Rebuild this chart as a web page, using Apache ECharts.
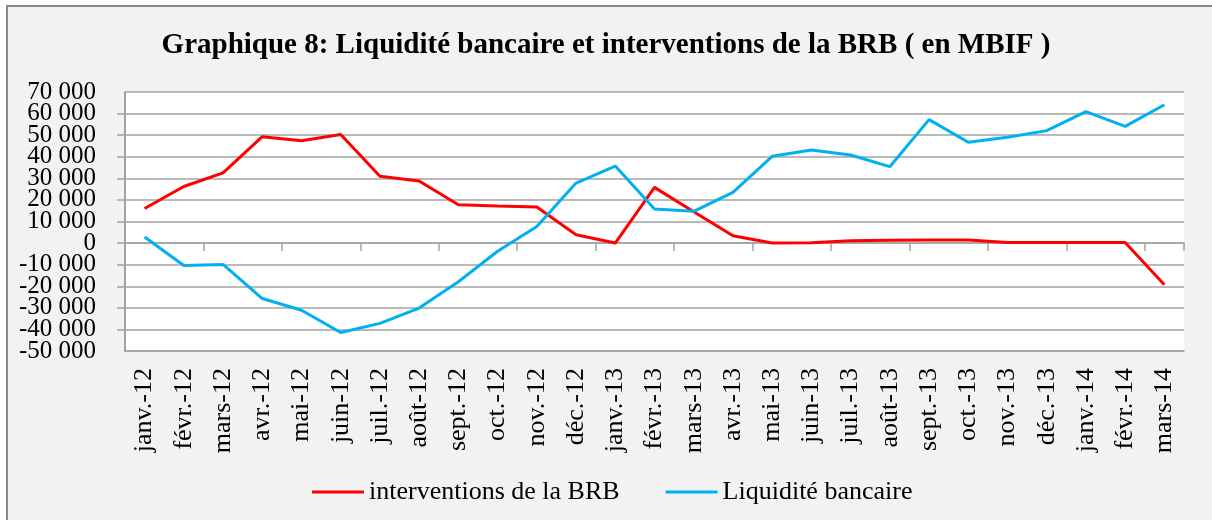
<!DOCTYPE html>
<html>
<head>
<meta charset="utf-8">
<script src="https://cdn.jsdelivr.net/npm/echarts@6/dist/echarts.min.js"></script>
<style>
  html, body { margin: 0; padding: 0; background: #fff; }
  #chart { width: 1212px; height: 520px; }
</style>
</head>
<body>
<div id="chart"></div>
<script>
// mois (axe des catégories)
const months = ['janv.-12', 'févr.-12', 'mars-12', 'avr.-12', 'mai-12', 'juin-12', 'juil.-12', 'août-12', 'sept.-12',
  'oct.-12', 'nov.-12', 'déc.-12', 'janv.-13', 'févr.-13', 'mars-13', 'avr.-13', 'mai-13', 'juin-13', 'juil.-13',
  'août-13', 'sept.-13', 'oct.-13', 'nov.-13', 'déc.-13', 'janv.-14', 'févr.-14', 'mars-14'];

// valeurs en MBIF
const interventions = [16000, 26200, 32500, 49300, 47400, 50300, 31000, 28800, 17800, 17200, 16700, 3900, 0,
  25800, 14500, 3400, 0, 100, 1100, 1300, 1400, 1400, 300, 300, 300, 300, -19300];
const liquidite = [2800, -10400, -9900, -25700, -31100, -41400, -37200, -30100, -17900, -3800, 7700, 27800, 35700,
  15800, 14700, 23500, 40200, 43100, 40800, 35400, 57200, 46700, 49000, 52100, 60900, 54100, 64100];

const yMin = -50000, yMax = 70000, yStep = 10000;

const serif = 'Liberation Serif';
const gris = '#a3a3a3';

function fmt(v) {
  let s = Math.abs(v).toString().replace(/\B(?=(\d{3})+(?!\d))/g, ' ');
  return v < 0 ? '-' + s : s;
}

const yLabel = {
  margin: 29,
  fontFamily: serif,
  fontSize: 25,
  color: '#000'
};

let chart = echarts.init(document.getElementById('chart'));
let option = {
  animation: false,
  backgroundColor: '#fff',
  graphic: [{
    type: 'rect',
    z: -10,
    shape: { x: 7, y: 6, width: 1230, height: 540 },
    style: { fill: '#f2f2f2', stroke: '#898989', lineWidth: 2 }
  }],
  title: {
    text: 'Graphique 8: Liquidité bancaire et interventions de la BRB ( en MBIF )',
    left: 'center',
    top: 26,
    textStyle: { fontFamily: serif, fontWeight: 'bold', fontSize: 29, color: '#000' }
  },
  legend: {
    left: 307,
    top: 474,
    itemWidth: 52,
    itemHeight: 3,
    itemGap: 46,
    icon: 'rect',
    textStyle: { fontFamily: serif, fontSize: 26, color: '#000' },
    data: ['interventions de la BRB', 'Liquidité bancaire']
  },
  grid: {
    left: 125,
    right: 28,
    top: 92,
    bottom: 169,
    show: true,
    backgroundColor: '#fff',
    borderWidth: 0
  },
  xAxis: [
    {
      // axe au niveau zéro : ligne et graduations seulement
      type: 'category',
      data: months,
      boundaryGap: true,
      axisLine: { onZero: true, lineStyle: { color: gris, width: 1.5 } },
      axisTick: { show: true, length: 8, lineStyle: { color: gris, width: 1.5 } },
      axisLabel: { show: false }
    },
    {
      // étiquettes en bas du graphique (+ ligne du -50 000)
      type: 'category',
      data: months,
      position: 'bottom',
      boundaryGap: true,
      axisLine: { show: true, onZero: false, lineStyle: { color: gris, width: 1.5 } },
      axisTick: { show: false },
      axisLabel: {
        rotate: 90,
        margin: 17,
        interval: 0,
        fontFamily: serif,
        fontSize: 26,
        color: '#000'
      }
    }
  ],
  yAxis: [
    {
      type: 'value',
      min: yMin,
      max: yMax,
      interval: yStep,
      axisLine: { show: true, lineStyle: { color: gris, width: 2 } },
      axisTick: { show: true, length: 8, lineStyle: { color: gris, width: 1.5 } },
      splitLine: { lineStyle: { color: gris, width: 1.5 } },
      axisLabel: Object.assign({ showMinLabel: false, showMaxLabel: false, formatter: fmt }, yLabel)
    },
    {
      // seulement les étiquettes extrêmes (70 000 et -50 000)
      type: 'value',
      position: 'left',
      min: yMin,
      max: yMax,
      interval: yStep,
      axisLine: { show: false },
      axisTick: { show: false },
      splitLine: { show: false },
      axisLabel: Object.assign({
        showMinLabel: true,
        showMaxLabel: true,
        formatter: v => (v === yMin || v === yMax) ? fmt(v) : ''
      }, yLabel)
    }
  ],
  series: [
    {
      name: 'interventions de la BRB',
      type: 'line',
      xAxisIndex: 0,
      yAxisIndex: 0,
      data: interventions,
      showSymbol: false,
      symbol: 'none',
      color: '#ff0000',
      lineStyle: { color: '#ff0000', width: 3 }
    },
    {
      name: 'Liquidité bancaire',
      type: 'line',
      xAxisIndex: 0,
      yAxisIndex: 0,
      data: liquidite,
      showSymbol: false,
      symbol: 'none',
      color: '#00b0f0',
      lineStyle: { color: '#00b0f0', width: 3 }
    }
  ]
};
chart.setOption(option);
</script>
</body>
</html>
